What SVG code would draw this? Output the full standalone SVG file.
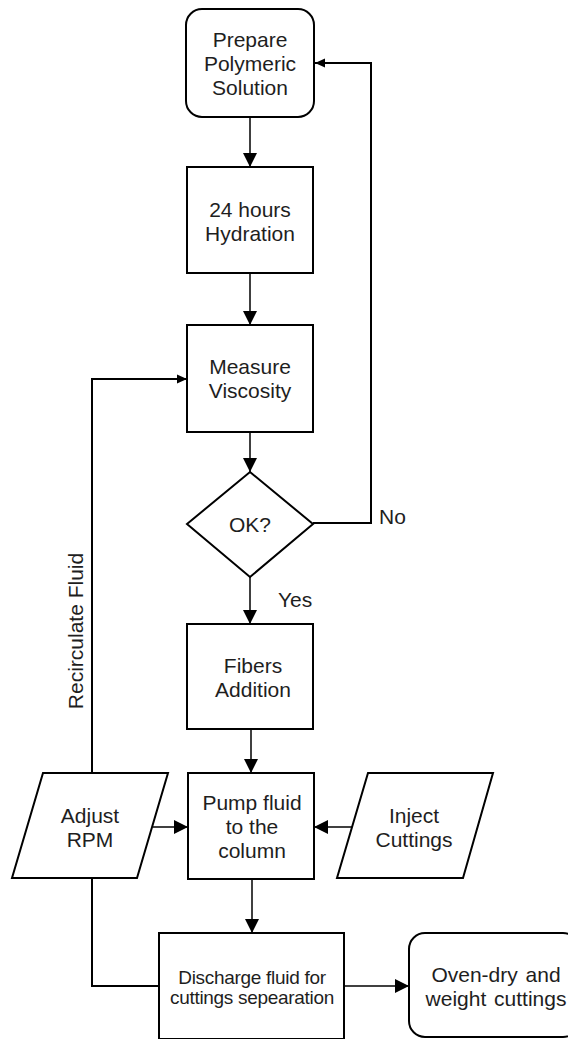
<svg xmlns="http://www.w3.org/2000/svg" width="568" height="1039" viewBox="0 0 568 1039">
<style>
.n{fill:#fff;stroke:#000;stroke-width:2}
.t{font-family:"Liberation Sans",Arial,sans-serif;font-size:21px;fill:#1e1e1e;text-anchor:middle}
.s{font-size:19px;letter-spacing:-0.3px}
.c{fill:none;stroke:#000;stroke-width:1.5}
.c2{fill:none;stroke:#000;stroke-width:2}
</style>
<defs>
<marker id="ab" markerUnits="userSpaceOnUse" markerWidth="14" markerHeight="14" refX="14" refY="7" orient="auto"><path d="M0,0 L14,7 L0,14 Z" fill="#000"/></marker>
<marker id="as" markerUnits="userSpaceOnUse" markerWidth="10" markerHeight="10" refX="10" refY="5" orient="auto"><path d="M0,0.5 L10,5 L0,9.5 Z" fill="#000"/></marker>
</defs>
<g id="connectors">
<line class="c" x1="250" y1="117" x2="250" y2="167" marker-end="url(#ab)"/>
<line class="c" x1="250" y1="273" x2="250" y2="325" marker-end="url(#ab)"/>
<line class="c" x1="250" y1="432" x2="250" y2="472" marker-end="url(#ab)"/>
<line class="c" x1="250" y1="577" x2="250" y2="624" marker-end="url(#ab)"/>
<line class="c" x1="251" y1="729" x2="251" y2="773" marker-end="url(#ab)"/>
<line class="c" x1="252" y1="879" x2="252" y2="933" marker-end="url(#ab)"/>
<line class="c" x1="153" y1="827" x2="188" y2="827" marker-end="url(#ab)"/>
<line class="c" x1="352" y1="827" x2="314" y2="827" marker-end="url(#ab)"/>
<line class="c" x1="344" y1="986" x2="409" y2="986" marker-end="url(#ab)"/>
<polyline class="c2" points="313,523 371,523 371,63 315,63" marker-end="url(#as)"/>
<polyline class="c2" points="92,773 92,379 187,379" marker-end="url(#as)"/>
<polyline class="c2" points="92,879 92,986 159,986"/>
<text class="t" x="379" y="524" style="text-anchor:start">No</text>
<text class="t" x="278" y="607" style="text-anchor:start">Yes</text>
<text class="t" transform="translate(83,631) rotate(-90)">Recirculate Fluid</text>
</g>
<g id="prepare">
<rect class="n" x="186" y="9" width="128" height="108" rx="16"/>
<text class="t" x="250" y="47">Prepare</text>
<text class="t" x="250" y="71">Polymeric</text>
<text class="t" x="250" y="95">Solution</text>
</g>
<g id="hydration">
<rect class="n" x="187" y="167" width="126" height="106"/>
<text class="t" x="250" y="217">24 hours</text>
<text class="t" x="250" y="241">Hydration</text>
</g>
<g id="measure">
<rect class="n" x="187" y="325" width="126" height="107"/>
<text class="t" x="250" y="374">Measure</text>
<text class="t" x="250" y="398">Viscosity</text>
</g>
<g id="ok">
<polygon class="n" points="250,472 313,524 250,577 187,524"/>
<text class="t" x="250" y="532">OK?</text>
</g>
<g id="fibers">
<rect class="n" x="187" y="624" width="126" height="105"/>
<text class="t" x="253" y="673">Fibers</text>
<text class="t" x="253" y="697">Addition</text>
</g>
<g id="pump">
<rect class="n" x="188" y="773" width="126" height="106"/>
<text class="t" x="252" y="810">Pump fluid</text>
<text class="t" x="252" y="834">to the</text>
<text class="t" x="252" y="858">column</text>
</g>
<g id="adjust">
<polygon class="n" points="43,773 168,773 137,878 12,878"/>
<text class="t" x="90" y="823">Adjust</text>
<text class="t" x="90" y="847">RPM</text>
</g>
<g id="inject">
<polygon class="n" points="368,773 493,773 463,878 337,878"/>
<text class="t" x="414" y="823">Inject</text>
<text class="t" x="414" y="847">Cuttings</text>
</g>
<g id="discharge">
<rect class="n" x="159" y="933" width="185" height="106"/>
<text class="t s" x="252" y="984">Discharge fluid for</text>
<text class="t s" x="252" y="1004">cuttings sepearation</text>
</g>
<g id="oven">
<rect class="n" x="409" y="933" width="170" height="104" rx="16"/>
<text class="t" x="496" y="982" word-spacing="2">Oven-dry and</text>
<text class="t" x="496" y="1006" word-spacing="2">weight cuttings</text>
</g>
</svg>
